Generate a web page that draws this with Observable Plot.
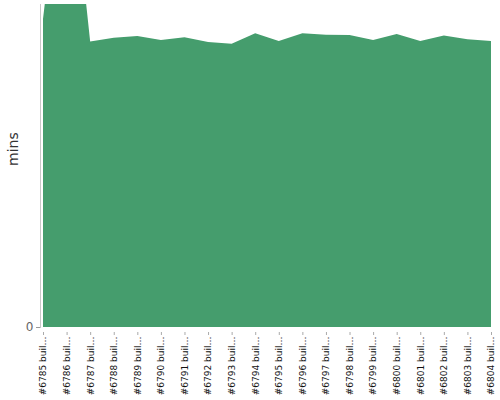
<!DOCTYPE html>
<html>
<head>
<meta charset="utf-8">
<script src="https://cdn.jsdelivr.net/npm/d3@7"></script>
<script src="https://cdn.jsdelivr.net/npm/@observablehq/plot@0.6"></script>
<style>
  html, body { margin: 0; padding: 0; background: #fff; }
  svg { display: block; }
  svg, svg text, svg g { font-family: "DejaVu Sans", sans-serif !important; }
</style>
</head>
<body>
<div id="chart"></div>
<script>
const builds = ["#6785 build", "#6786 build", "#6787 build", "#6788 build", "#6789 build",
  "#6790 build", "#6791 build", "#6792 build", "#6793 build", "#6794 build",
  "#6795 build", "#6796 build", "#6797 build", "#6798 build", "#6799 build",
  "#6800 build", "#6801 build", "#6802 build", "#6803 build", "#6804 build"];
const mins = [13.35, 21.98, 12.37, 12.54, 12.61, 12.44, 12.56, 12.35, 12.28, 12.73,
  12.40, 12.73, 12.67, 12.66, 12.44, 12.70, 12.40, 12.64, 12.47, 12.40];
const yTicks = [0];
const yLabel = "mins";

const data = builds.map((b, i) => ({build: b, mins: mins[i]}));
const font = "DejaVu Sans";

const chart = Plot.plot({
  width: 500,
  height: 400,
  marginTop: 4,
  marginBottom: 73,
  marginLeft: 40,
  marginRight: 9,
  style: {fontFamily: font, fontSize: "9px", background: "#fff"},
  x: {type: "point", domain: builds, range: [43, 491], padding: 0, round: false, axis: null},
  y: {domain: [0, 14], axis: null},
  marks: [
    Plot.areaY(data, {x: "build", y: "mins", fill: "#459d6d", clip: true}),
    Plot.frame({anchor: "left", stroke: "#c8c8c8"}),
    Plot.ruleY([0], {x1: builds[0], x2: builds[builds.length - 1], dy: 5, stroke: "#c8c8c8"}),
    Plot.axisY({ticks: yTicks, tickSize: 4, stroke: "#999", color: "#666", fontSize: 12, fontFamily: font, label: null, tickPadding: 3}),
    Plot.axisX({tickSize: 3, dy: 5, stroke: "#aaa", tickRotate: -90, tickPadding: 1, color: "#111", fontSize: 9, fontFamily: font, label: null,
      tickFormat: d => d.slice(0, 10) + "…"}),
    Plot.text([yLabel], {frameAnchor: "left", dx: -27, rotate: -90, text: d => d, fontSize: 14, fontFamily: font, fill: "#333"})
  ]
});
document.getElementById("chart").appendChild(chart);
</script>
</body>
</html>
